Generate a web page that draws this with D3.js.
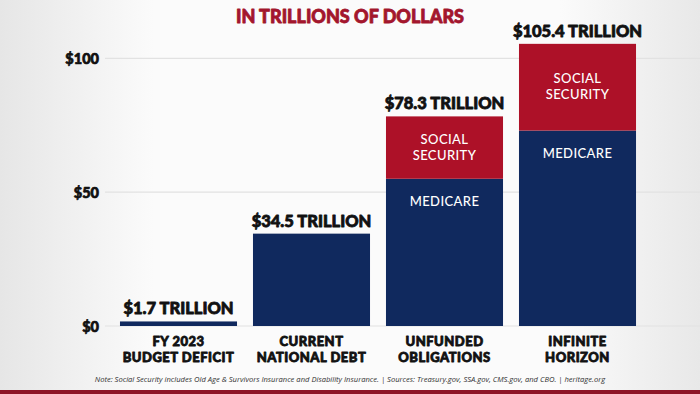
<!DOCTYPE html>
<html>
<head>
<meta charset="utf-8">
<script src="https://cdn.jsdelivr.net/npm/d3@7"></script>
<style>
  html, body { margin: 0; padding: 0; background: #fff; }
  svg { display: block; }
</style>
</head>
<body>
<svg id="chart" width="700" height="394"></svg>
<script>
// Données du graphique
const categories = ["FY 2023|BUDGET DEFICIT", "CURRENT|NATIONAL DEBT", "UNFUNDED|OBLIGATIONS", "INFINITE|HORIZON"];
const medicare = [1.7, 34.5, 55.0, 73.0];
const socialSecurity = [0, 0, 23.3, 32.4];
const totals = ["$1.7 TRILLION", "$34.5 TRILLION", "$78.3 TRILLION", "$105.4 TRILLION"];
const yTicks = [0, 50, 100];
const title = "IN TRILLIONS OF DOLLARS";
const note = "Note: Social Security includes Old Age & Survivors Insurance and Disability Insurance. | Sources: Treasury.gov, SSA.gov, CMS.gov, and CBO. | heritage.org";

const svg = d3.select("#chart");
const W = 700, H = 394;
const navy = "#10295e", red = "#ad1128", heavy = "Lato, 'DejaVu Sans', sans-serif";

// Style gras renforcé (contour du même ton)
function bold(sel, color, w) {
  sel.attr("fill", color)
    .attr("stroke", color)
    .attr("stroke-width", w)
    .attr("stroke-linejoin", "round")
    .style("font-family", heavy)
    .style("font-weight", 900);
}

// Fond clair avec bords grisés
const defs = svg.append("defs");
const grad = defs.append("linearGradient").attr("id", "bg");
grad.append("stop").attr("offset", "0%").attr("stop-color", "#e6e6e6");
grad.append("stop").attr("offset", "22%").attr("stop-color", "#fbfbfb");
grad.append("stop").attr("offset", "80%").attr("stop-color", "#fbfbfb");
grad.append("stop").attr("offset", "100%").attr("stop-color", "#e8e8e8");
svg.append("rect").attr("width", W).attr("height", H).attr("fill", "url(#bg)");

// Bande rouge en bas
svg.append("rect").attr("x", 0).attr("y", 390).attr("width", W).attr("height", 4).attr("fill", "#8e1426");

// Échelles
const x = d3.scaleBand()
  .domain(d3.range(categories.length))
  .range([112, 644])
  .paddingInner(0.12)
  .paddingOuter(0.06);

const y = d3.scaleLinear()
  .domain([0, 100])
  .range([326, 58.3]);

// Grille horizontale
svg.append("g")
  .selectAll("line")
  .data(yTicks)
  .join("line")
  .attr("x1", 105).attr("x2", 700)
  .attr("y1", d => y(d)).attr("y2", d => y(d))
  .attr("stroke", "#e2e2e2").attr("stroke-width", 1.2);

// Axe vertical
const yAxis = svg.append("g")
  .attr("transform", "translate(100,0)")
  .call(d3.axisLeft(y).tickValues(yTicks).tickFormat(d => "$" + d).tickSize(0).tickPadding(1));
yAxis.select(".domain").remove();
yAxis.selectAll("text")
  .attr("dy", "0.36em")
  .call(bold, "#111", 0.7)
  .style("font-size", "14.5px");

// Segments empilés : Medicare / dette puis Social Security
const segs = [];
medicare.forEach((m, i) => {
  segs.push({ i, y0: 0, y1: m, color: navy });
  if (socialSecurity[i] > 0) segs.push({ i, y0: m, y1: m + socialSecurity[i], color: red });
});

svg.append("g")
  .selectAll("rect")
  .data(segs)
  .join("rect")
  .attr("x", d => x(d.i))
  .attr("width", x.bandwidth())
  .attr("y", d => y(d.y1))
  .attr("height", d => y(d.y0) - y(d.y1))
  .attr("fill", d => d.color);

// Libellés internes
const inner = svg.append("g")
  .attr("fill", "#fff")
  .attr("text-anchor", "middle")
  .style("font-family", "Lato, 'Open Sans', sans-serif")
  .style("font-weight", 500)
  .style("font-size", "13px")
  .style("letter-spacing", "0.4px");

socialSecurity.forEach((d, i) => {
  if (!d) return;
  const cx = x(i) + x.bandwidth() / 2;
  const mid = (y(medicare[i]) + y(medicare[i] + d)) / 2;
  inner.append("text").attr("x", cx).attr("y", mid - 4).text("SOCIAL");
  inner.append("text").attr("x", cx).attr("y", mid + 12).text("SECURITY");
  inner.append("text").attr("x", cx).attr("y", y(medicare[i]) + 27).text("MEDICARE");
});

// Totaux au-dessus des barres
svg.append("g")
  .selectAll("text")
  .data(totals)
  .join("text")
  .attr("x", (d, i) => x(i) + x.bandwidth() / 2)
  .attr("y", (d, i) => y(medicare[i] + socialSecurity[i]) - 7)
  .attr("text-anchor", "middle")
  .call(bold, "#111", 0.8)
  .style("font-size", "16.5px")
  .text(d => d);

// Catégories sous l'axe
const cat = svg.append("g")
  .attr("text-anchor", "middle")
  .call(bold, "#111", 0.8)
  .style("font-size", "13px")
  .style("letter-spacing", "0.5px");

categories.forEach((c, i) => {
  c.split("|").forEach((l, k) => {
    cat.append("text")
      .attr("x", x(i) + x.bandwidth() / 2)
      .attr("y", 345.5 + k * 16)
      .text(l);
  });
});

// Titre
svg.append("text")
  .attr("x", 350).attr("y", 23)
  .attr("text-anchor", "middle")
  .call(bold, "#a3162d", 0.8)
  .style("font-size", "18px")
  .text(title);

// Note de bas de page
svg.append("text")
  .attr("x", 350).attr("y", 382)
  .attr("text-anchor", "middle")
  .attr("fill", "#333")
  .style("font-family", "'Open Sans', sans-serif")
  .style("font-style", "italic")
  .style("font-size", "7.6px")
  .text(note);
</script>
</body>
</html>
